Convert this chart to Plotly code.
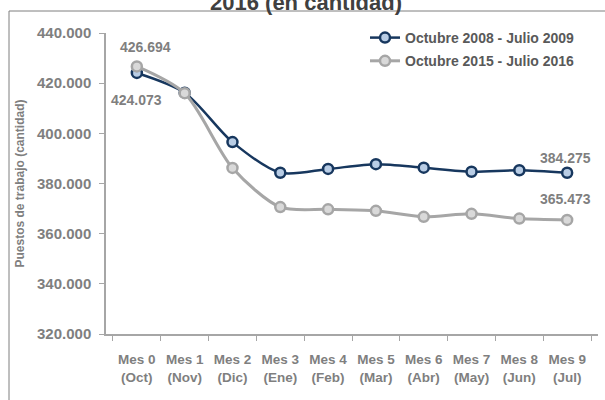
import plotly.graph_objects as go

meses = ["Mes 0<br>(Oct)", "Mes 1<br>(Nov)", "Mes 2<br>(Dic)", "Mes 3<br>(Ene)", "Mes 4<br>(Feb)",
         "Mes 5<br>(Mar)", "Mes 6<br>(Abr)", "Mes 7<br>(May)", "Mes 8<br>(Jun)", "Mes 9<br>(Jul)"]
serie_2008 = [424073, 416200, 396500, 384300, 385800, 387700, 386300, 384700, 385300, 384275]
serie_2015 = [426694, 416000, 386200, 370600, 369700, 369100, 366700, 367900, 366000, 365473]
nombre_2008 = "Octubre 2008 - Julio 2009"
nombre_2015 = "Octubre 2015 - Julio 2016"

GRIS_TXT = "#7f7f7f"
FONT = "Liberation Sans, Arial, sans-serif"

W, H = 605, 400
L, R, T, B = 106, 7, 33, 66
PW, PH = W - L - R, H - T - B


def px_to_paper(x, y):
    return (x - L) / PW, (H - B - y) / PH


def fmt(v):
    return f"{v:,}".replace(",", ".")


fig = go.Figure()
fig.add_trace(go.Scatter(
    x=meses, y=serie_2008, name=nombre_2008, mode="lines+markers", legendgroup="a",
    line={"color": "#17375e", "width": 2.5, "shape": "spline", "smoothing": 0.8},
    marker={"size": 10, "color": "#b9cde5", "line": {"color": "#17375e", "width": 2.5}},
))
fig.add_trace(go.Scatter(
    x=meses, y=serie_2015, name=nombre_2015, mode="lines+markers", legendgroup="b",
    line={"color": "#a6a6a6", "width": 3, "shape": "spline", "smoothing": 0.8},
    marker={"size": 10, "color": "#d9d9d9", "line": {"color": "#a6a6a6", "width": 2.5}},
))

lbl = {"font": {"family": FONT, "size": 14, "color": GRIS_TXT, "weight": "bold"}, "showarrow": False}
annotations = [
    dict(x=meses[0], y=serie_2015[0], text=fmt(serie_2015[0]), yshift=19, xshift=9, **lbl),
    dict(x=meses[0], y=serie_2008[0], text=fmt(serie_2008[0]), yshift=-27, xshift=0, **lbl),
    dict(x=meses[9], y=serie_2008[9], text=fmt(serie_2008[9]), yshift=15, xshift=-2, **lbl),
    dict(x=meses[9], y=serie_2015[9], text=fmt(serie_2015[9]), yshift=21, xshift=-2, **lbl),
]
tx, ty = px_to_paper(306, 2)
annotations.append(dict(
    x=tx, y=ty, xref="paper", yref="paper", text="2016 (en cantidad)", showarrow=False,
    xanchor="center", yanchor="middle",
    font={"family": FONT, "size": 22, "color": "#404040", "weight": "bold"},
))

bx0, by0 = px_to_paper(9, 420)
bx1, by1 = px_to_paper(640, 11)

lx, ly = px_to_paper(365, 22)

fig.update_layout(
    width=W, height=H,
    margin={"l": L, "r": R, "t": T, "b": B, "autoexpand": False},
    plot_bgcolor="white", paper_bgcolor="white",
    separators=",.",
    font={"family": FONT, "color": GRIS_TXT},
    showlegend=True,
    legend={
        "x": lx, "y": ly, "xanchor": "left", "yanchor": "top",
        "traceorder": "grouped", "bgcolor": "rgba(0,0,0,0)",
        "font": {"family": FONT, "size": 14, "color": "#595959", "weight": "bold"},
        "tracegroupgap": 2,
    },
    xaxis={
        "type": "category", "tickson": "boundaries", "ticks": "outside", "ticklen": 5,
        "tickcolor": "#a6a6a6", "showline": True, "linecolor": "#a6a6a6", "linewidth": 1.5,
        "showgrid": False, "automargin": False, "tickangle": 0, "ticklabelstandoff": 12,
        "tickfont": {"size": 13.5, "color": GRIS_TXT, "weight": "bold"},
    },
    yaxis={
        "range": [320000, 440000], "dtick": 20000, "tickformat": ",d",
        "ticks": "outside", "ticklen": 5, "tickcolor": "#a6a6a6", "ticklabelstandoff": 5,
        "showline": True, "linecolor": "#a6a6a6", "linewidth": 1.5,
        "showgrid": False, "zeroline": False, "automargin": False,
        "tickfont": {"size": 15, "color": GRIS_TXT, "weight": "bold"},
        "title": {"text": "Puestos de trabajo (cantidad)", "standoff": 10,
                  "font": {"size": 12, "color": GRIS_TXT, "weight": "bold"}},
    },
    annotations=annotations,
    shapes=[{
        "type": "rect", "xref": "paper", "yref": "paper",
        "x0": bx0, "y0": by0, "x1": bx1, "y1": by1,
        "line": {"color": "#7f7f7f", "width": 1}, "layer": "below",
    }],
)

fig.write_html("out.html", config={"displayModeBar": False},
               post_script="document.body.style.margin='0';")
